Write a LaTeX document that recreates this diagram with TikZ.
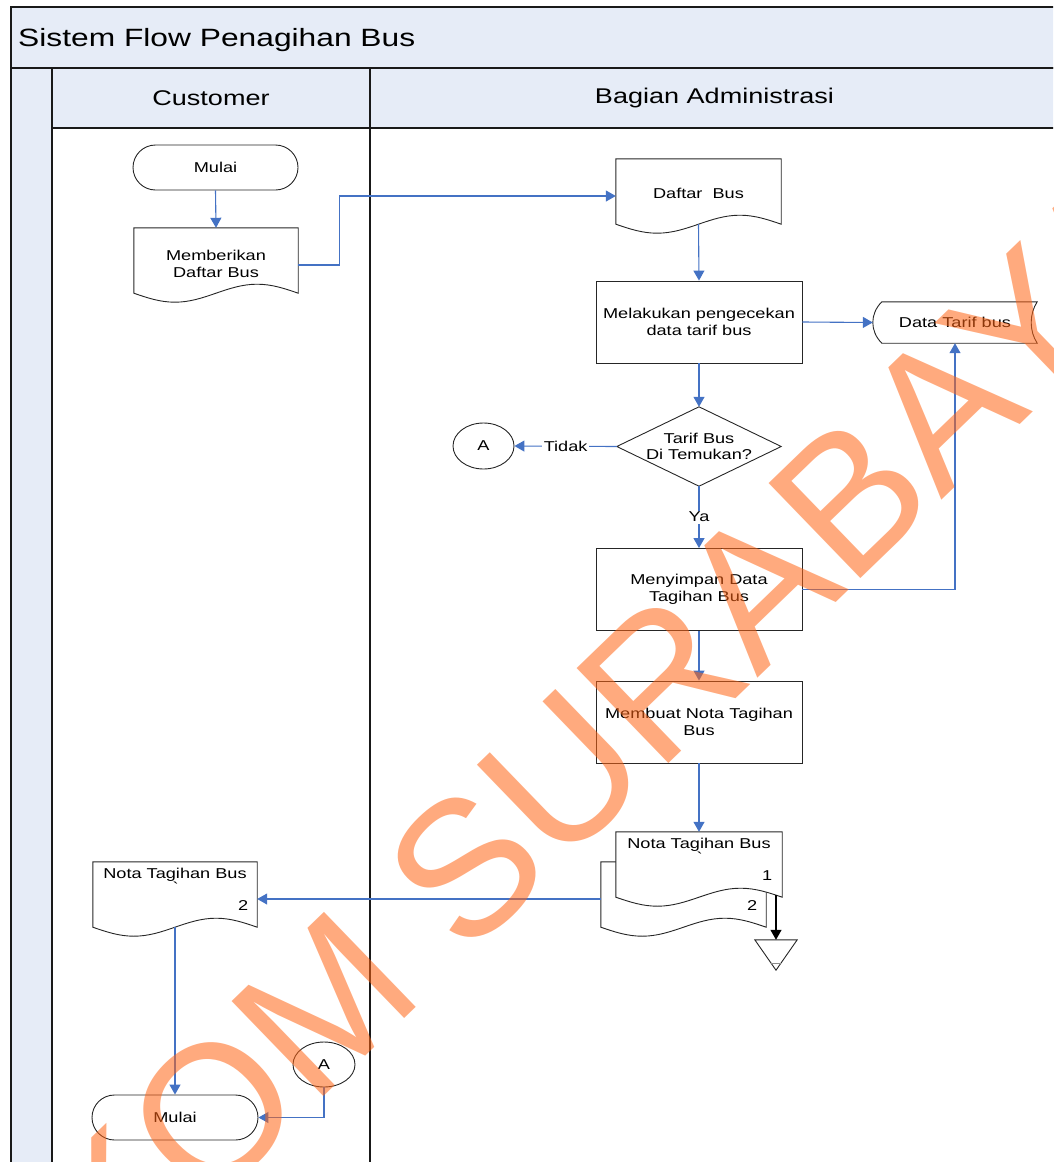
\documentclass[tikz,border=0pt]{standalone}
\usepackage{fontspec}
\setmainfont{Liberation Sans}[FakeStretch=1.27]
\newfontfamily\wmfont{Liberation Sans}
\usetikzlibrary{arrows.meta,calc,shapes.geometric,shapes.misc}

\definecolor{laneblue}{RGB}{230,236,247}
\definecolor{flowblue}{RGB}{68,114,196}
\definecolor{wmorange}{RGB}{255,100,20}

\newcommand\nodefont{\fontsize{14.3}{16.5}\selectfont}
\newcommand\headfont{\fontsize{21.3}{24}\selectfont}
\newcommand\titlefont{\fontsize{25}{28}\selectfont}

% document symbol: straight top and sides, wavy bottom edge
\newcommand\docoutline[2][]{%
  \draw[shapeline,#1] (#2.north west) -- (#2.north east) -- (#2.south east)
    sin ($(#2.south east)!0.25!(#2.south west)+(0,-9)$)
    cos (#2.south)
    sin ($(#2.south east)!0.75!(#2.south west)+(0,9)$)
    cos (#2.south west) -- cycle;}

\begin{document}
\begin{tikzpicture}[x=1pt,y=-1pt,
  frame/.style={draw=black!90, line width=1.2pt},
  shapeline/.style={draw=black!85, line width=0.9pt},
  procbox/.style={shapeline, rectangle, minimum width=206pt, minimum height=82pt,
    inner sep=0pt, align=center, font=\nodefont},
  docnode/.style={rectangle, inner sep=0pt, minimum height=65pt},
  termnode/.style={shapeline, rounded rectangle, minimum width=165pt, minimum height=45pt,
    inner sep=0pt, font=\nodefont},
  connector/.style={ellipse, shapeline, minimum width=61pt, minimum height=46pt,
    inner sep=0pt, font=\nodefont},
  txt/.style={inner sep=0pt, align=center, font=\nodefont},
  flow/.style={draw=flowblue, line width=1.1pt, -{Triangle[length=10pt,width=11pt]}},
  blackflow/.style={draw=black, line width=1.1pt, -{Triangle[length=10pt,width=11pt]}},
  lbl/.style={fill=white, inner sep=1.5pt, font=\nodefont},
  wm/.style={inner sep=0pt, text=wmorange, text opacity=0.55,
    font=\wmfont\fontsize{192}{192}\selectfont}]

\useasboundingbox (0,0) rectangle (1053,1162);
\clip (0,0) rectangle (1053,1162);

% pool frame, lane headers and lane divider
\draw[frame, fill=laneblue] (11,7) rectangle (1070,68);
\draw[frame, fill=laneblue] (11,68) rectangle (52,1180);
\draw[frame, fill=laneblue] (52,68) rectangle (1070,128);
\draw[frame] (370,68) -- (370,1180);
\node[inner sep=0pt, anchor=base west, font=\titlefont] (title) at (18,46) {Sistem Flow Penagihan Bus};
\node[inner sep=0pt, font=\headfont] (hcust) at (211,98) {Customer};
\node[inner sep=0pt, font=\headfont] (hadm) at (714.5,98) {Bagian Administrasi};

% Customer lane
\node[termnode] (mulai1) at (215.5,167.5) {Mulai};
\node[docnode, minimum width=164pt] (beri) at (216,260.5) {};
\docoutline{beri}
\node[txt] (beritxt) at ($(beri.north)+(0,36)$) {Memberikan\\Daftar Bus};

% Bagian Administrasi lane
\node[docnode, minimum width=165pt] (daftar) at (698.5,191.5) {};
\docoutline{daftar}
\node[txt] (daftartxt) at ($(daftar.north)+(0,35)$) {Daftar\ \ Bus};
\node[procbox] (cek) at (699,322) {Melakukan pengecekan\\data tarif bus};
\node[rectangle, inner sep=0pt, minimum width=164pt, minimum height=41pt, font=\nodefont]
  (dtb) at (955,322.5) {Data Tarif bus};
\draw[shapeline] ($(dtb.north west)+(9,0)$) -- (dtb.north east)
  .. controls ($(dtb.north east)+(-8,12)$) and ($(dtb.south east)+(-8,-12)$) .. (dtb.south east)
  -- ($(dtb.south west)+(9,0)$)
  .. controls ($(dtb.south west)+(-3,-12)$) and ($(dtb.north west)+(-3,12)$) .. cycle;

\node[rectangle, inner sep=0pt, minimum width=164pt, minimum height=79pt, align=center,
  font=\nodefont] (dia) at (699,446.5) {Tarif Bus\\Di Temukan?};
\draw[shapeline] (dia.north) -- (dia.east) -- (dia.south) -- (dia.west) -- cycle;
\node[connector] (atop) at (483.5,446) {A};

\node[procbox] (simpan) at (699,589.5) {Menyimpan Data\\Tagihan Bus};
\node[procbox] (buat) at (699,722) {Membuat Nota Tagihan\\Bus};

% two-copy document
\node[docnode, minimum width=165pt] (notab) at (683.5,894.5) {};
\node[docnode, minimum width=166pt] (notaf) at (699,864.5) {};
\docoutline[fill=white]{notab}
\docoutline[fill=white]{notaf}
\node[txt] (notaftxt) at ($(notaf.north)+(0,12.5)$) {Nota Tagihan Bus};
\node[txt] (notafmark) at ($(notaf.north)+(0,25)$) {\textasciigrave};
\node[txt] (notafone) at ($(notaf.north east)+(-15,44)$) {1};
\node[txt] (notabtwo) at ($(notab.north east)+(-14,44)$) {2};

% offline storage
\node[rectangle, inner sep=0pt, minimum width=42pt, minimum height=30pt] (offl) at (776,955) {};
\draw[shapeline] (offl.north west) -- (offl.north east) -- (offl.south) -- cycle;
\draw[draw=black!45, line width=0.8pt] ($(offl.south)+(-5,-7)$) -- ($(offl.south)+(5,-7)$);

% Customer lane, lower part
\node[docnode, minimum width=164pt] (notac) at (175,894.5) {};
\docoutline{notac}
\node[txt] (notactxt) at ($(notac.north)+(0,12.5)$) {Nota Tagihan Bus};
\node[txt] (notacmark) at ($(notac.north)+(0,25)$) {\textasciigrave};
\node[txt] (notactwo) at ($(notac.north east)+(-14,44)$) {2};
\node[connector, minimum width=62pt, minimum height=45pt] (abot) at (324,1064.5) {A};
\node[termnode, minimum width=166pt] (mulai2) at (175,1117.5) {Mulai};

% connectors
\draw[flow] (mulai1.south) -- (beri.north);
\draw[flow] ([yshift=-4.5pt]beri.east) -- ++(41,0) |- ([yshift=-4.5pt]daftar.west);
\draw[flow] (daftar.south) -- (cek.north);
\draw[flow] (cek.east) -- (dtb.west);
\draw[flow] (cek.south) -- (dia.north);
\draw[flow] (dia.west) -- node[lbl] (tidak) {Tidak} (atop.east);
\draw[flow] (dia.south) -- node[lbl] (ya) {Ya} (simpan.north);
\draw[flow] (simpan.east) -| (dtb.south);
\draw[flow] (simpan.south) -- (buat.north);
\draw[flow] (buat.south) -- (notaf.north);
\draw[blackflow] ([yshift=2pt]notaf.south east -| offl.north) -- (offl.north);
\draw[flow] ([yshift=-4.5pt]notab.west) -- ([yshift=-4.5pt]notac.east);
\draw[flow] (notac.south) -- (mulai2.north);
\draw[flow] (abot.south) |- (mulai2.east);

% watermark
\node[wm, rotate=44] (stamp) at (502,833) {STIKOM SURABAYA};
\end{tikzpicture}
\end{document}
